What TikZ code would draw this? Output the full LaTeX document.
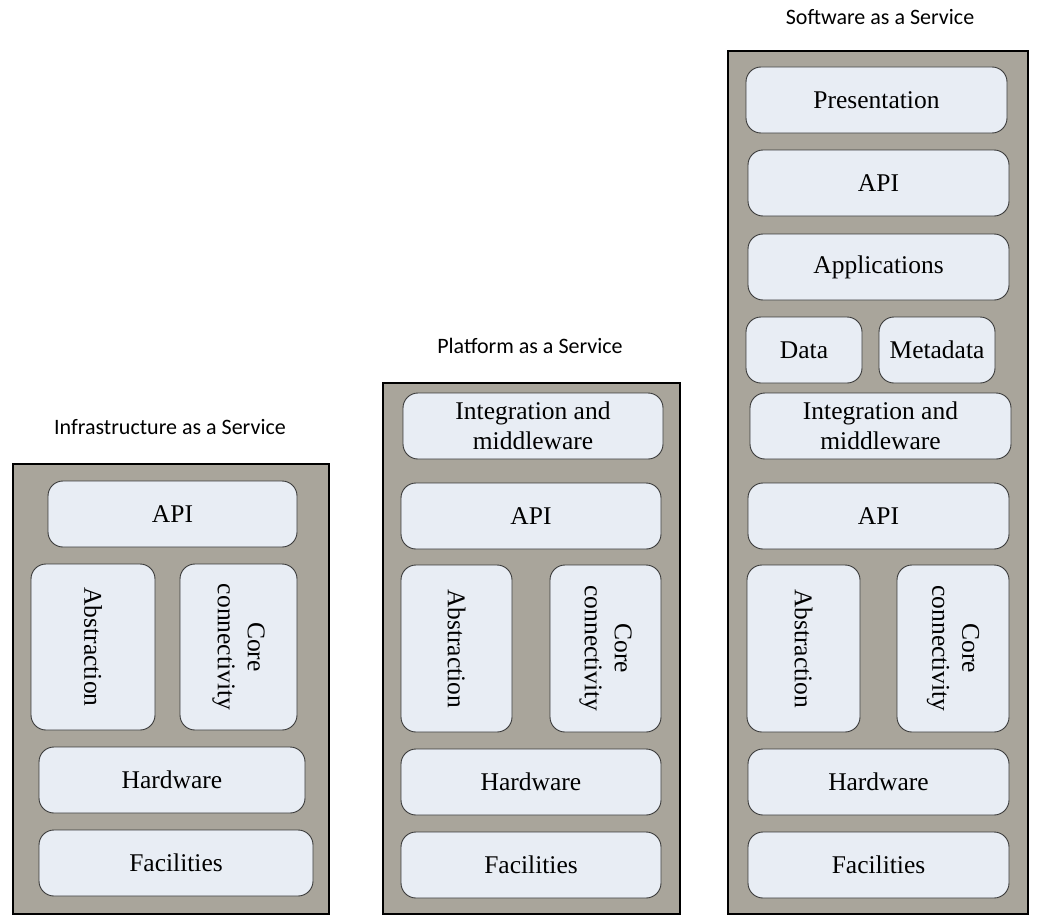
\documentclass[tikz,border=0pt]{standalone}
\usepackage{fontspec}
\setmainfont{Liberation Serif}
\newfontfamily\titlefont{Carlito}
\definecolor{framefill}{HTML}{A9A59B}
\definecolor{boxfill}{HTML}{E8EDF4}
\definecolor{boxline}{HTML}{3A3A3A}
\begin{document}
\begin{tikzpicture}[x=1pt,y=-1pt,
  frame/.style={draw=black, line width=1.2pt, fill=framefill, inner sep=0pt},
  layer/.style={draw=boxline, line width=0.9pt, fill=boxfill, rounded corners=15pt,
    inner sep=0pt, align=center, font=\fontsize{25.5}{30}\selectfont},
  vlayer/.style={layer, rotate=-90},
  ttl/.style={font=\titlefont\fontsize{22}{26}\selectfont, inner sep=0pt}]
\useasboundingbox (0,0) rectangle (1048,923);

% ---------- IaaS ----------
\node[ttl] (iaastitle) at (170,427) {Infrastructure as a Service};
\node[frame, minimum width=316pt, minimum height=450pt] (iaasframe) at (171,689) {};
\node[layer, minimum width=249pt, minimum height=66pt] (iapi) at (172.5,514) {API};
\node[vlayer, minimum width=166pt, minimum height=124pt] (iabs) at (93,647) {Abstraction};
\node[vlayer, minimum width=166pt, minimum height=117pt] (icore) at (238.5,647) {Core\\connectivity};
\node[layer, minimum width=266pt, minimum height=66pt] (ihw) at (172,780) {Hardware};
\node[layer, minimum width=274pt, minimum height=66pt] (ifac) at (176,863) {Facilities};

% ---------- PaaS ----------
\node[ttl] (paastitle) at (530,346) {Platform as a Service};
\node[frame, minimum width=297pt, minimum height=531pt] (paasframe) at (531.5,648.5) {};
\node[layer, minimum width=260pt, minimum height=66pt] (pint) at (533,426) {Integration and\\middleware};
\node[layer, minimum width=260pt, minimum height=66pt] (papi) at (531,516) {API};
\node[vlayer, minimum width=167pt, minimum height=111pt] (pabs) at (456.5,648.5) {Abstraction};
\node[vlayer, minimum width=167pt, minimum height=111pt] (pcore) at (605.5,648.5) {Core\\connectivity};
\node[layer, minimum width=260pt, minimum height=66pt] (phw) at (531,782) {Hardware};
\node[layer, minimum width=260pt, minimum height=66pt] (pfac) at (531,865) {Facilities};

% ---------- SaaS ----------
\node[ttl] (saastitle) at (880,17) {Software as a Service};
\node[frame, minimum width=300pt, minimum height=863pt] (saasframe) at (878,482.5) {};
\node[layer, minimum width=261pt, minimum height=66pt] (spres) at (876.5,100) {Presentation};
\node[layer, minimum width=261pt, minimum height=66pt] (sapi1) at (878.5,183) {API};
\node[layer, minimum width=261pt, minimum height=66pt] (sapp) at (878.5,267) {Applications};
\node[layer, minimum width=116pt, minimum height=66pt] (sdata) at (804,350) {Data};
\node[layer, minimum width=116pt, minimum height=66pt] (smeta) at (937,350) {Metadata};
\node[layer, minimum width=261pt, minimum height=66pt] (sint) at (880.5,426) {Integration and\\middleware};
\node[layer, minimum width=261pt, minimum height=66pt] (sapi2) at (878.5,516) {API};
\node[vlayer, minimum width=167pt, minimum height=113pt] (sabs) at (803.5,648.5) {Abstraction};
\node[vlayer, minimum width=167pt, minimum height=112pt] (score) at (953,648.5) {Core\\connectivity};
\node[layer, minimum width=261pt, minimum height=66pt] (shw) at (878.5,782) {Hardware};
\node[layer, minimum width=261pt, minimum height=66pt] (sfac) at (878.5,865) {Facilities};
\end{tikzpicture}
\end{document}
